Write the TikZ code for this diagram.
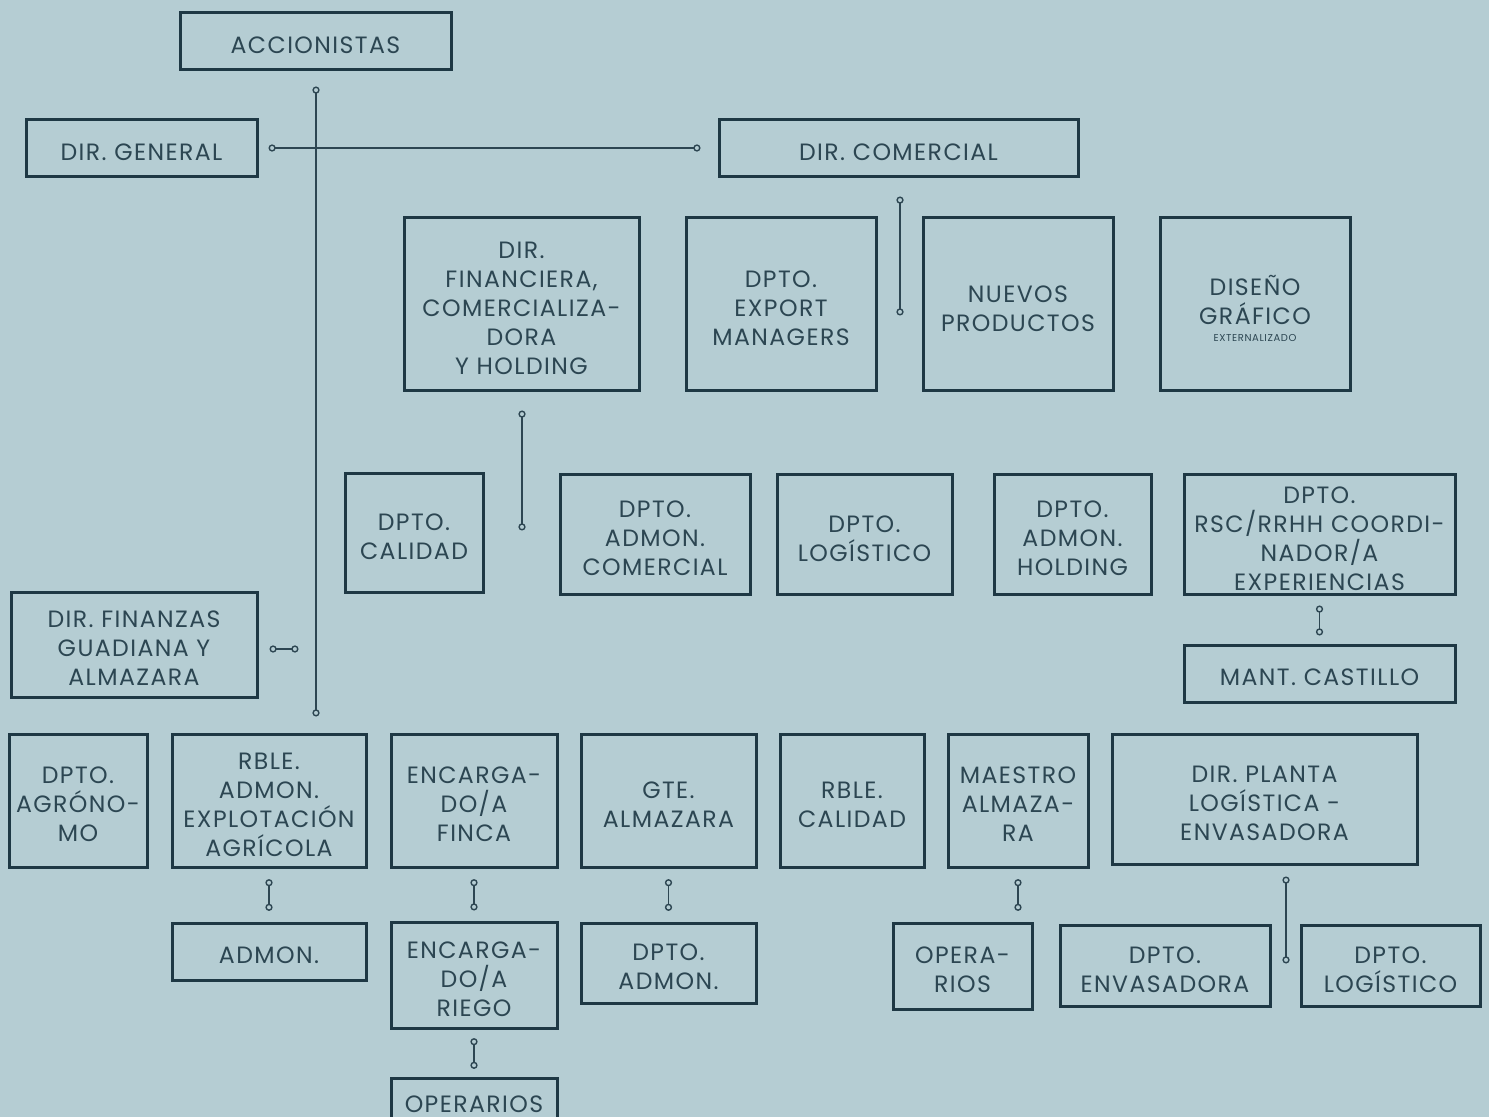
\documentclass[tikz,border=0pt]{standalone}
\usepackage{fontspec}
\setmainfont{Poppins}[LetterSpace=6]
\usetikzlibrary{arrows.meta,calc}
\definecolor{bgc}{RGB}{181,205,211}
\definecolor{bordc}{RGB}{30,56,68}
\definecolor{txtc}{RGB}{44,70,82}
\definecolor{linec}{RGB}{45,70,82}
\tikzset{
  box/.style={draw=bordc,line width=1.5pt,inner sep=0pt},
  lbl/.style={inner sep=0pt,align=center,text=txtc,
    font=\fontsize{11.8}{14.5}\selectfont},
  conn/.style={draw=linec,line width=0.7pt,
    {Circle[open,length=3.6pt,width=3.6pt]}-{Circle[open,length=3.6pt,width=3.6pt]}},
}
\newcommand\bx[6]{\node[box,minimum width={(#4-#2)*0.5pt},minimum height={(#5-#3)*0.5pt}] (#1) at ({(#2+#4)/2},{(#3+#5)/2}) {};
\node[lbl] (#1t) at ([yshift=-2pt]#1.center) {#6};}
\begin{document}
\begin{tikzpicture}[x=0.5pt,y=-0.5pt]
\fill[bgc] (0,0) rectangle (1489,1117);
\useasboundingbox (0,0) rectangle (1489,1117);
% top
\bx{acc}{180}{13}{451}{70}{ACCIONISTAS}
\bx{gen}{26}{120}{257}{177}{DIR. GENERAL}
\bx{com}{719}{120}{1078}{177}{DIR. COMERCIAL}
% row 2
\bx{fin}{404}{218}{639}{391}{DIR.\\FINANCIERA,\\COMERCIALIZA-\\DORA\\Y HOLDING}
\bx{exp}{686}{218}{876}{391}{DPTO.\\EXPORT\\MANAGERS}
\bx{nue}{923}{218}{1113}{391}{NUEVOS\\PRODUCTOS}
\bx{dis}{1160}{218}{1350}{391}{DISEÑO\\GRÁFICO\\[-6pt]{\fontsize{5}{6}\selectfont EXTERNALIZADO}}
% row 3
\bx{cal}{345}{474}{483}{592}{DPTO.\\CALIDAD}
\bx{adc}{560}{475}{750}{594}{DPTO.\\ADMON.\\COMERCIAL}
\bx{log}{777}{475}{952}{594}{DPTO.\\LOGÍSTICO}
\bx{adh}{994}{475}{1151}{594}{DPTO.\\ADMON.\\HOLDING}
\bx{rsc}{1184}{475}{1455}{594}{DPTO.\\RSC/RRHH COORDI-\\NADOR/A\\EXPERIENCIAS}
\bx{cas}{1184}{645}{1455}{702}{MANT. CASTILLO}
\bx{fgu}{11}{592}{257}{697}{DIR. FINANZAS\\GUADIANA Y\\ALMAZARA}
% row 4
\bx{agr}{9}{734}{147}{867}{DPTO.\\AGRÓNO-\\MO}
\bx{rbl}{172}{734}{366}{867}{RBLE.\\ADMON.\\EXPLOTACIÓN\\AGRÍCOLA}
\bx{enf}{391}{734}{557}{867}{ENCARGA-\\DO/A\\FINCA}
\bx{gte}{581}{734}{756}{867}{GTE.\\ALMAZARA}
\bx{rca}{780}{734}{924}{867}{RBLE.\\CALIDAD}
\bx{mae}{948}{734}{1088}{867}{MAESTRO\\ALMAZA-\\RA}
\bx{pla}{1112}{734}{1417}{864}{DIR. PLANTA\\LOGÍSTICA -\\ENVASADORA}
% row 5
\bx{adm}{172}{923}{366}{980}{ADMON.}
\bx{rie}{391}{922}{557}{1028}{ENCARGA-\\DO/A\\RIEGO}
\bx{opr}{391}{1078}{557}{1122}{OPERARIOS}
\bx{dad}{581}{923}{756}{1003}{DPTO.\\ADMON.}
\bx{ope}{893}{923}{1032}{1009}{OPERA-\\RIOS}
\bx{env}{1060}{925}{1270}{1006}{DPTO.\\ENVASADORA}
\bx{lo2}{1301}{925}{1480}{1006}{DPTO.\\LOGÍSTICO}
% coordinates for connectors
\coordinate (vt) at (316,86.5);
\coordinate (vb) at (316,716.5);
\coordinate (hl) at (268.5,148);
\coordinate (hr) at (700.5,148);
\coordinate (ct) at (900,196.5);
\coordinate (cb) at (900,315.5);
\coordinate (ft) at (522,410.5);
\coordinate (fb) at (522,530.5);
\coordinate (gl) at (269.5,649);
\coordinate (gr) at (298.5,649);
\coordinate (pt) at (1286,876.5);
\coordinate (pb) at (1286,963.5);
% connectors
\draw[conn] (vt) -- (vb);
\draw[conn] (hl) -- (hr);
\draw[conn] (ct) -- (cb);
\draw[conn] (ft) -- (fb);
\draw[conn] (gl) -- (gr);
\draw[conn] (pt) -- (pb);
\draw[conn,shorten <=5pt,shorten >=4pt] (rsc.south) -- (cas.north);
\draw[conn,shorten <=5.3pt,shorten >=5.3pt] (rbl.south) -- (adm.north);
\draw[conn,shorten <=5.3pt,shorten >=5pt] (enf.south) -- (rie.north);
\draw[conn,shorten <=4.3pt,shorten >=3.8pt] (rie.south) -- (opr.north);
\draw[conn,shorten <=5.3pt,shorten >=5.3pt] (gte.south) -- (dad.north);
\draw[conn,shorten <=5.3pt,shorten >=5.3pt] (mae.south) -- (mae.south |- ope.north);
\end{tikzpicture}
\end{document}
